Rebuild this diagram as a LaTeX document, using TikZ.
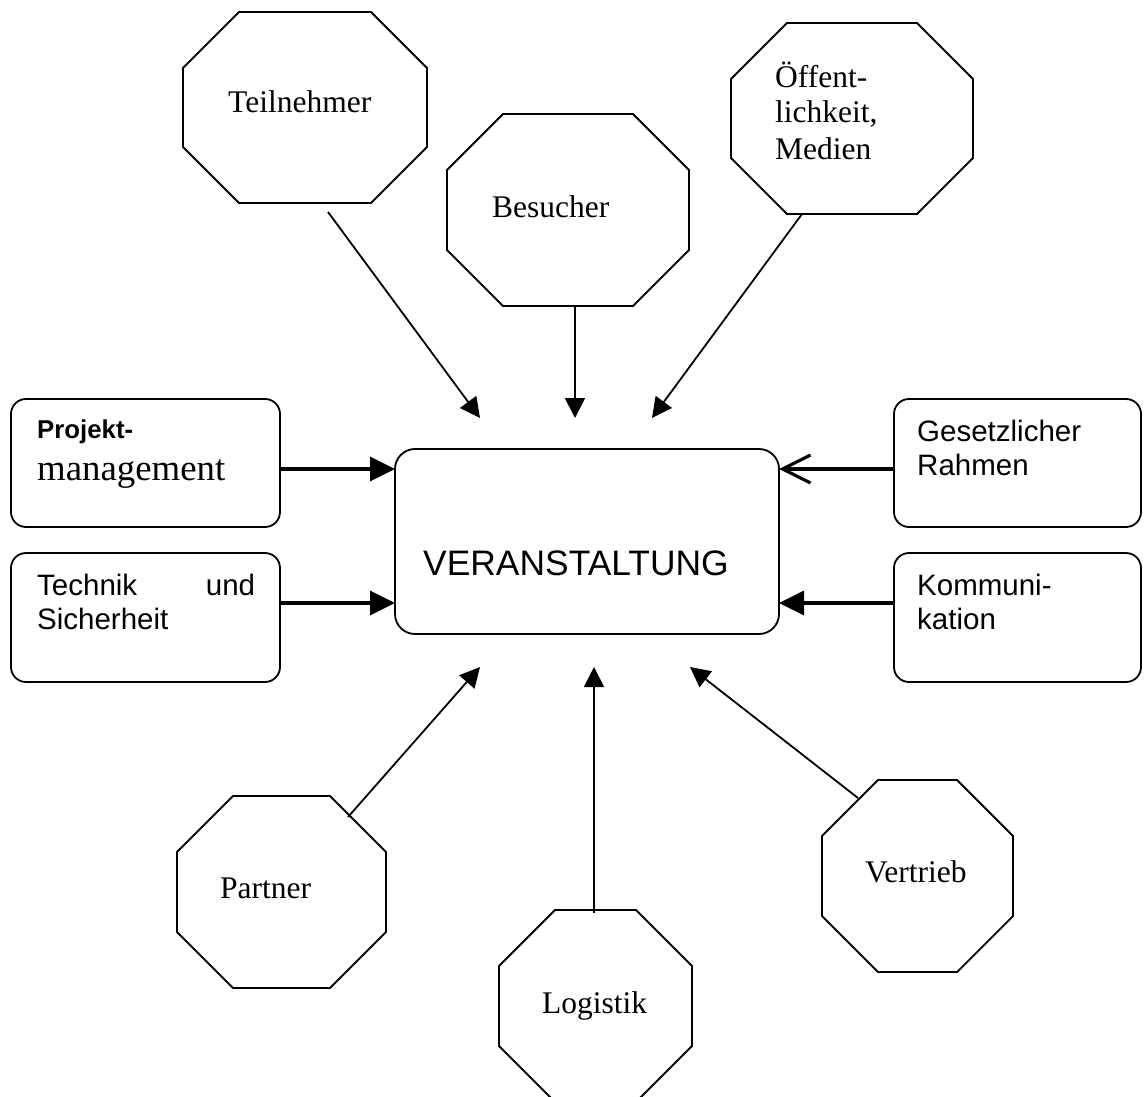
\documentclass[tikz,border=0pt]{standalone}
\usepackage{fontspec}
\setmainfont{Liberation Serif}
\newfontfamily\arialfont{Liberation Sans}
\usetikzlibrary{arrows.meta}

% draws an octagon on the border of a (rectangular) named node
\newcommand\drawocta[1]{%
  \draw[shapeline] ([xshift=56pt]#1.north west) -- ([xshift=-56pt]#1.north east)
    -- ([yshift=-56pt]#1.north east) -- ([yshift=56pt]#1.south east)
    -- ([xshift=-56pt]#1.south east) -- ([xshift=56pt]#1.south west)
    -- ([yshift=56pt]#1.south west) -- ([yshift=-56pt]#1.north west) -- cycle;}

\begin{document}
\begin{tikzpicture}[x=1pt,y=-1pt,
  shapeline/.style={draw, line width=1.8pt, line join=miter},
  octa/.style={rectangle, inner sep=0pt, outer sep=0pt},
  rbox/.style={draw, line width=1.8pt, rounded corners=15pt, inner sep=0pt, outer sep=0pt},
  serifText/.style={font=\fontsize{31.5}{36}\selectfont, inner sep=0pt, anchor=base west, align=left},
  sansText/.style={font=\arialfont\fontsize{29.5}{34}\selectfont, inner sep=0pt, anchor=base west, align=left},
  thinArrow/.style={line width=1.8pt, -{Triangle[length=20pt,width=20pt]}},
  thickArrow/.style={line width=3.2pt, -{Triangle[length=25pt,width=24pt]}},
  openArrow/.style={line width=3.2pt, -{Straight Barb[length=28pt,width=28pt]}}
]
\useasboundingbox (0,0) rectangle (1148,1097);
\clip (0,0) rectangle (1148,1097);
\fill[white] (0,0) rectangle (1148,1097);

% ---------- octagons ----------
\node[octa, minimum width=244pt, minimum height=191pt] (teil) at (305,107.5) {};
\node[octa, minimum width=242pt, minimum height=192pt] (besu) at (568,210) {};
\node[octa, minimum width=242pt, minimum height=191pt] (oeff) at (852,118.5) {};
\node[octa, minimum width=209pt, minimum height=192pt] (part) at (281.5,892) {};
\node[octa, minimum width=193pt, minimum height=192pt] (logi) at (595.5,1006) {};
\node[octa, minimum width=191pt, minimum height=192pt] (vert) at (917.5,876) {};
\drawocta{teil}
\drawocta{besu}
\drawocta{oeff}
\drawocta{part}
\drawocta{logi}
\drawocta{vert}

\node[serifText] (teiltext) at (228,113) {Teilnehmer};
\node[serifText] (besutext) at (492,217) {Besucher};
\node[serifText] (oefftext) at (775,159) {Öffent-\\lichkeit,\\Medien};
\node[serifText] (parttext) at (220,898) {Partner};
\node[serifText] (logitext) at (542,1013) {Logistik};
\node[serifText] (verttext) at (865,882) {Vertrieb};

% ---------- rounded boxes ----------
\node[rbox, minimum width=269pt, minimum height=128pt] (proj) at (145.5,463) {};
\node[rbox, minimum width=269pt, minimum height=129pt] (tech) at (145.5,617.5) {};
\node[rbox, minimum width=247pt, minimum height=128pt] (gese) at (1017.5,463) {};
\node[rbox, minimum width=247pt, minimum height=129pt] (komm) at (1017.5,617.5) {};
\node[rbox, rounded corners=20pt, minimum width=384pt, minimum height=185pt] (event) at (587,541.5) {};

\node[inner sep=0pt, anchor=base west, font=\arialfont\bfseries\fontsize{25.8}{30}\selectfont] (projtexta) at (37,438) {Projekt-};
\node[inner sep=0pt, anchor=base west, font=\fontsize{36.8}{42}\selectfont] (projtextb) at (37,480) {management};
\node[sansText] (techtext) at (37,629) {\makebox[218pt][s]{Technik und}\\Sicherheit};
\node[sansText] (gesetext) at (917,475) {Gesetzlicher\\Rahmen};
\node[sansText] (kommtext) at (917,629) {Kommuni-\\kation};
\node[inner sep=0pt, anchor=base west, font=\arialfont\fontsize{35.4}{40}\selectfont] (eventtext) at (423,575) {VERANSTALTUNG};

% ---------- free arrow tips ----------
\coordinate (tipT) at (480,418);
\coordinate (tipB) at (575,418);
\coordinate (tipO) at (652,418);
\coordinate (tipP) at (480,667);
\coordinate (tipL) at (594,667);
\coordinate (tipV) at (690,667);

% ---------- connectors ----------
\draw[thinArrow] ([xshift=23pt,yshift=-9pt]teil.south) -- (tipT);
\draw[thinArrow] ([xshift=7pt]besu.south) -- (tipB);
\draw[thinArrow] ([xshift=-50pt]oeff.south) -- (tipO);
\draw[thinArrow] ([xshift=-38pt,yshift=-21pt]part.north east) -- (tipP);
\draw[thinArrow] ([xshift=-1.5pt,yshift=-3pt]logi.north) -- (tipL);
\draw[thinArrow] ([xshift=-59.5pt,yshift=-18pt]vert.north) -- (tipV);

\draw[thickArrow, line width=3.5pt] ([yshift=-6pt]proj.east) -- ([yshift=-6pt]proj.east -| event.west);
\draw[thickArrow] ([yshift=14.5pt]tech.east) -- ([yshift=14.5pt]tech.east -| event.west);
\draw[openArrow] ([yshift=-6pt]gese.west) -- ([yshift=-6pt]gese.west -| event.east);
\draw[thickArrow] ([yshift=14.5pt]komm.west) -- ([yshift=14.5pt]komm.west -| event.east);
\end{tikzpicture}
\end{document}
